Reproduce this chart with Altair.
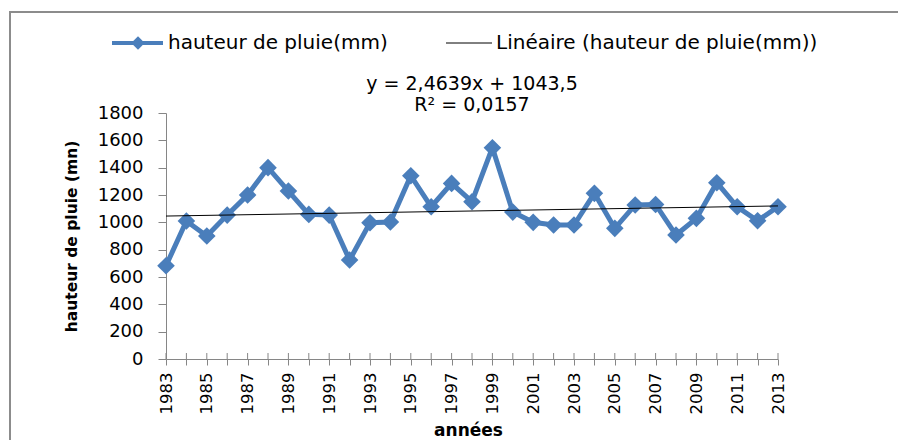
import altair as alt
import pandas as pd

# ---- data ----
years = list(range(1983, 2014))
rain = [682, 1010, 900, 1053, 1200, 1400, 1229, 1058, 1053, 724,
        997, 1002, 1341, 1114, 1285, 1151, 1546, 1075, 1000, 980,
        980, 1212, 956, 1127, 1131, 907, 1029, 1290, 1114, 1012, 1114]
trend_years = [1983, 2013]
trend_values = [1046, 1120]
y_ticks = [0, 200, 400, 600, 800, 1000, 1200, 1400, 1600, 1800]
legend_labels = ["hauteur de pluie(mm)", "Linéaire (hauteur de pluie(mm))"]
equation_lines = ["y = 2,4639x + 1043,5", "R² = 0,0157"]
x_title = "années"
y_title = "hauteur de pluie (mn)"

BLUE = "#4A7EBB"
GREY = "#868686"
FONT = "DejaVu Sans"
W, H = 612, 246

df = pd.DataFrame({"year": years, "rain": rain})
trend = pd.DataFrame({"year": trend_years, "rain": trend_values})
one = pd.DataFrame({"k": [0]})

x_scale = alt.Scale(domain=[years[0], years[-1]], nice=False, zero=False)
y_scale = alt.Scale(domain=[y_ticks[0], y_ticks[-1]], nice=False)

x_axis = alt.Axis(
    values=years, format="d",
    labelExpr="datum.value % 2 == 1 ? datum.label : ''",
    labelAngle=270, labelAlign="right", labelBaseline="middle",
    labelPadding=7, labelOverlap=False, labelFlush=False,
    tickSize=6, grid=False, domainColor=GREY, tickColor=GREY,
    labelFont=FONT, labelFontSize=16.5, labelColor="#000000",
    title=x_title, titleFont=FONT, titleFontWeight="bold", titleFontSize=17,
    titleColor="#000000", titleX=302, titleY=71, titleBaseline="middle",
    titleAlign="center",
)
y_axis = alt.Axis(
    values=y_ticks, format="d", labelOverlap=False, labelFlush=False,
    tickSize=8, labelPadding=15, grid=False, domainColor=GREY, tickColor=GREY,
    labelFont=FONT, labelFontSize=18, labelColor="#000000",
    title=y_title, titleFont=FONT, titleFontWeight="bold", titleFontSize=15.5,
    titleColor="#000000", titleAngle=270, titleX=-95, titleY=H / 2,
    titleBaseline="middle", titleAlign="center",
)

X = alt.X("year:Q", scale=x_scale, axis=x_axis)
Y = alt.Y("rain:Q", scale=y_scale, axis=y_axis)

frame = alt.Chart(one).mark_rect(fillOpacity=0, stroke="#8c8c8c", strokeWidth=2).encode(
    x=alt.value(-156), x2=alt.value(W + 300), y=alt.value(-101), y2=alt.value(H + 300)
)

cross_ticks = alt.Chart(df).mark_rule(color=GREY, strokeWidth=1).encode(
    x=X, y=alt.value(H), y2=alt.value(H - 6)
)

series_line = alt.Chart(df).mark_line(color=BLUE, strokeWidth=5).encode(x=X, y=Y)
series_pts = alt.Chart(df).mark_point(
    shape="diamond", filled=True, size=310, color=BLUE, opacity=1
).encode(x=X, y=Y)
trend_line = alt.Chart(trend).mark_line(color="#000000", strokeWidth=1).encode(x=X, y=Y)

LY = -70
leg_line1 = alt.Chart(one).mark_rule(color=BLUE, strokeWidth=4).encode(
    x=alt.value(-54), x2=alt.value(-3), y=alt.value(LY)
)
leg_pt1 = alt.Chart(one).mark_point(
    shape="diamond", filled=True, size=180, color=BLUE, opacity=1
).encode(x=alt.value(-28), y=alt.value(LY))
leg_txt1 = alt.Chart(one).mark_text(
    align="left", baseline="middle", font=FONT, fontSize=20, color="#000000"
).encode(x=alt.value(2), y=alt.value(LY), text=alt.value(legend_labels[0]))
leg_line2 = alt.Chart(one).mark_rule(color="#000000", strokeWidth=1).encode(
    x=alt.value(280), x2=alt.value(326), y=alt.value(LY)
)
leg_txt2 = alt.Chart(one).mark_text(
    align="left", baseline="middle", font=FONT, fontSize=20, color="#000000"
).encode(x=alt.value(330), y=alt.value(LY), text=alt.value(legend_labels[1]))

eq1 = alt.Chart(one).mark_text(
    align="center", baseline="middle", font=FONT, fontSize=19, color="#000000"
).encode(x=alt.value(306), y=alt.value(-29), text=alt.value(equation_lines[0]))
eq2 = alt.Chart(one).mark_text(
    align="center", baseline="middle", font=FONT, fontSize=19, color="#000000"
).encode(x=alt.value(306), y=alt.value(-8), text=alt.value(equation_lines[1]))

chart = alt.layer(
    frame, cross_ticks, series_line, series_pts, trend_line,
    leg_line1, leg_pt1, leg_txt1, leg_line2, leg_txt2, eq1, eq2,
).properties(
    width=W, height=H,
    padding={"left": 158, "top": 105, "right": 120, "bottom": 81},
    autosize=alt.AutoSizeParams(type="none"),
).configure_view(strokeWidth=0)

chart.save("out.html", embed_options={"renderer": "svg", "actions": False})
